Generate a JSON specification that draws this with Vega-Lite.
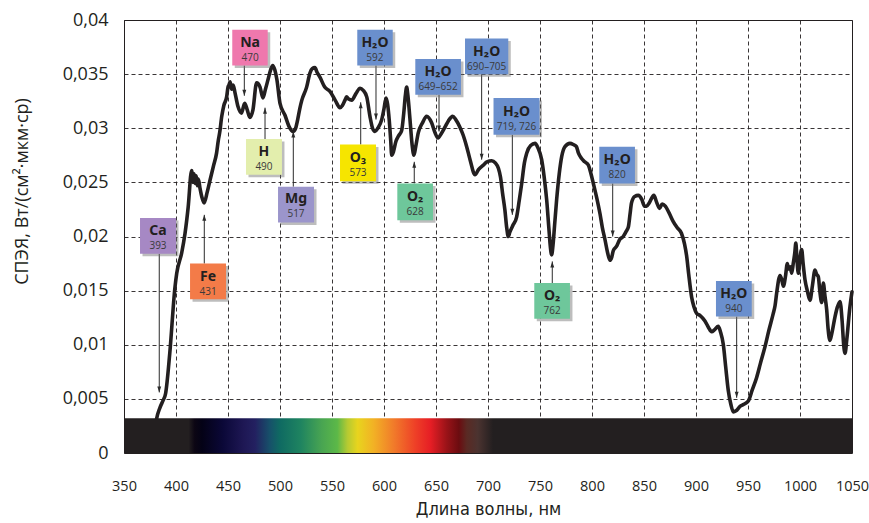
{
 "$schema": "https://vega.github.io/schema/vega-lite/v6.json",
 "width": 728,
 "height": 433,
 "autosize": {"type": "none"},
 "padding": {"left": 124, "top": 20, "right": 17, "bottom": 70},
 "background": "white",
 "config": {"view": {"stroke": "#231f20", "strokeWidth": 1}, "font": "Open Sans"},
 "datasets": {
  "curve": [
   {"x":379,"v":0.0015},{"x":381,"v":0.003},{"x":384.6,"v":0.0042},{"x":387.8,"v":0.0049},{"x":390,"v":0.0055},
   {"x":394,"v":0.0092},{"x":399,"v":0.0153},{"x":400.7,"v":0.0166},{"x":405.5,"v":0.0185},{"x":408.7,"v":0.0203},
   {"x":411.7,"v":0.0227},{"x":415,"v":0.0261},{"x":416.5,"v":0.025},{"x":417.5,"v":0.0258},{"x":418.5,"v":0.0249},
   {"x":419.5,"v":0.0256},{"x":420.5,"v":0.0247},{"x":421.5,"v":0.0253},{"x":423,"v":0.0245},{"x":425,"v":0.0236},
   {"x":427,"v":0.0231},{"x":430,"v":0.0241},{"x":432.7,"v":0.0252},{"x":436,"v":0.0265},{"x":439,"v":0.0277},
   {"x":440.7,"v":0.0289},{"x":442,"v":0.0296},{"x":444,"v":0.0311},{"x":446,"v":0.0321},{"x":448.7,"v":0.0329},
   {"x":450,"v":0.0338},{"x":451,"v":0.034},{"x":452,"v":0.0343},{"x":453.5,"v":0.0336},{"x":455,"v":0.034},
   {"x":456.7,"v":0.0333},{"x":459.6,"v":0.032},{"x":463,"v":0.0314},{"x":466,"v":0.0323},{"x":468.5,"v":0.0317},
   {"x":471,"v":0.031},{"x":474,"v":0.0317},{"x":477.5,"v":0.0342},{"x":480.8,"v":0.0338},{"x":483.6,"v":0.0328},
   {"x":486,"v":0.0336},{"x":488.5,"v":0.0345},{"x":491,"v":0.0354},{"x":493,"v":0.0358},{"x":495,"v":0.0354},
   {"x":497,"v":0.0345},{"x":500,"v":0.0323},{"x":504.8,"v":0.0312},{"x":509,"v":0.0301},{"x":512.5,"v":0.0297},
   {"x":515,"v":0.03},{"x":517,"v":0.0308},{"x":519,"v":0.0318},{"x":521,"v":0.0326},{"x":525.6,"v":0.0338},
   {"x":528.8,"v":0.0351},{"x":531,"v":0.0355},{"x":533.6,"v":0.0356},{"x":535.5,"v":0.0352},{"x":538.5,"v":0.0347},
   {"x":543,"v":0.0338},{"x":548,"v":0.0334},{"x":553,"v":0.0326},{"x":557.7,"v":0.0319},{"x":560,"v":0.0321},
   {"x":562.5,"v":0.0326},{"x":564,"v":0.0329},{"x":566,"v":0.0327},{"x":569,"v":0.0326},{"x":573,"v":0.0332},
   {"x":577,"v":0.0337},{"x":580,"v":0.0335},{"x":583.4,"v":0.0329},{"x":586.5,"v":0.0311},{"x":589,"v":0.03},
   {"x":591.3,"v":0.0297},{"x":594,"v":0.03},{"x":597.8,"v":0.0308},{"x":600,"v":0.0318},{"x":602,"v":0.0328},
   {"x":603.5,"v":0.0322},{"x":605,"v":0.0308},{"x":606.5,"v":0.0288},{"x":607.4,"v":0.0275},{"x":609,"v":0.0278},
   {"x":611.5,"v":0.0288},{"x":614,"v":0.0293},{"x":617,"v":0.0298},{"x":619,"v":0.0314},{"x":620.5,"v":0.033},
   {"x":621.8,"v":0.0338},{"x":623,"v":0.033},{"x":625,"v":0.0308},{"x":627,"v":0.0285},{"x":628.8,"v":0.0275},
   {"x":630.5,"v":0.0283},{"x":633,"v":0.0296},{"x":637,"v":0.0305},{"x":641,"v":0.0311},{"x":645.8,"v":0.0305},
   {"x":649,"v":0.0296},{"x":652,"v":0.0291},{"x":655,"v":0.0295},{"x":658.6,"v":0.0301},{"x":662,"v":0.0307},
   {"x":666,"v":0.0311},{"x":669,"v":0.0308},{"x":673,"v":0.0301},{"x":676,"v":0.0294},{"x":679.5,"v":0.0283},
   {"x":683,"v":0.027},{"x":687.5,"v":0.0257},{"x":691,"v":0.0262},{"x":695.5,"v":0.0266},{"x":699,"v":0.0269},
   {"x":703.6,"v":0.027},{"x":707,"v":0.0268},{"x":710,"v":0.0263},{"x":712,"v":0.0255},{"x":714,"v":0.024},
   {"x":716.3,"v":0.0224},{"x":718,"v":0.0208},{"x":719.5,"v":0.02},{"x":721,"v":0.0204},{"x":724.3,"v":0.0211},
   {"x":727.5,"v":0.0218},{"x":730,"v":0.0233},{"x":732.4,"v":0.0249},{"x":735,"v":0.0268},{"x":737.2,"v":0.0277},
   {"x":741,"v":0.0284},{"x":745.2,"v":0.0286},{"x":748,"v":0.0282},{"x":751.6,"v":0.0271},{"x":754,"v":0.0255},
   {"x":756.4,"v":0.0234},{"x":758.5,"v":0.0208},{"x":760,"v":0.019},{"x":761.2,"v":0.0183},{"x":762.5,"v":0.0192},
   {"x":764,"v":0.021},{"x":766,"v":0.0234},{"x":768.5,"v":0.0258},{"x":770.9,"v":0.0274},{"x":774,"v":0.0283},
   {"x":778.8,"v":0.0286},{"x":782,"v":0.0285},{"x":785,"v":0.0283},{"x":787,"v":0.0277},{"x":790,"v":0.0272},
   {"x":793,"v":0.0269},{"x":796.5,"v":0.0266},{"x":799,"v":0.0258},{"x":801.3,"v":0.0249},{"x":804.5,"v":0.0236},
   {"x":807.7,"v":0.0221},{"x":810,"v":0.0208},{"x":812.5,"v":0.0197},{"x":815,"v":0.0185},{"x":817.3,"v":0.0178},
   {"x":819,"v":0.0181},{"x":820.5,"v":0.0187},{"x":823.7,"v":0.0191},{"x":826.5,"v":0.0197},{"x":830,"v":0.02},
   {"x":833,"v":0.0205},{"x":835,"v":0.0209},{"x":836.5,"v":0.022},{"x":838,"v":0.0231},{"x":841,"v":0.0237},
   {"x":844.5,"v":0.0238},{"x":848,"v":0.0234},{"x":850.5,"v":0.0228},{"x":852.5,"v":0.0228},{"x":855,"v":0.0231},
   {"x":859.5,"v":0.0238},{"x":862,"v":0.0232},{"x":865,"v":0.0226},{"x":867.5,"v":0.023},{"x":870.5,"v":0.0228},
   {"x":874,"v":0.0222},{"x":878,"v":0.0214},{"x":882,"v":0.0208},{"x":886,"v":0.0203},{"x":889,"v":0.0193},
   {"x":891,"v":0.0182},{"x":893,"v":0.0165},{"x":895.8,"v":0.0144},{"x":898,"v":0.0135},{"x":900.6,"v":0.0129},
   {"x":904,"v":0.0127},{"x":908.6,"v":0.0122},{"x":912,"v":0.0116},{"x":915,"v":0.0112},{"x":918,"v":0.0114},
   {"x":921.4,"v":0.0117},{"x":923.5,"v":0.0112},{"x":926.3,"v":0.01},{"x":928.5,"v":0.008},{"x":931,"v":0.0058},
   {"x":933.5,"v":0.0045},{"x":935.9,"v":0.0038},{"x":938.5,"v":0.0039},{"x":942.3,"v":0.0043},{"x":946,"v":0.0045},
   {"x":950.3,"v":0.0048},{"x":954,"v":0.0058},{"x":958.4,"v":0.007},{"x":962,"v":0.0083},{"x":966.3,"v":0.0098},
   {"x":970,"v":0.0113},{"x":974.3,"v":0.0129},{"x":976,"v":0.0136},{"x":977.6,"v":0.0148},{"x":980.8,"v":0.0164},
   {"x":982.5,"v":0.016},{"x":984,"v":0.0154},{"x":986,"v":0.0163},{"x":987.8,"v":0.0175},{"x":989,"v":0.017},
   {"x":990.5,"v":0.0172},{"x":992,"v":0.0166},{"x":993.5,"v":0.0175},{"x":995,"v":0.0185},{"x":996,"v":0.0194},
   {"x":997,"v":0.018},{"x":998.4,"v":0.0166},{"x":1000,"v":0.018},{"x":1001.6,"v":0.0188},{"x":1003,"v":0.0175},
   {"x":1004.8,"v":0.016},{"x":1007,"v":0.015},{"x":1009.6,"v":0.0141},{"x":1012,"v":0.0155},{"x":1014.4,"v":0.0169},
   {"x":1016,"v":0.0165},{"x":1017.6,"v":0.0163},{"x":1019,"v":0.015},{"x":1020.9,"v":0.0139},{"x":1022.4,"v":0.0157},
   {"x":1024,"v":0.0145},{"x":1025.7,"v":0.0132},{"x":1027,"v":0.0115},{"x":1028.8,"v":0.0104},{"x":1030.5,"v":0.011},
   {"x":1033.7,"v":0.0126},{"x":1036,"v":0.0135},{"x":1038.5,"v":0.014},{"x":1040.5,"v":0.0122},{"x":1042,"v":0.01},
   {"x":1043.3,"v":0.0092},{"x":1045,"v":0.0105},{"x":1048,"v":0.0135},{"x":1050,"v":0.0149}
  ],
  "band": [{"from": 350, "to": 1050, "low": 0, "high": 0.0032}],
  "notes": [
   {"sym":"Ca","num":"393","x1":365.4,"x2":400.0,"y1":0.0184,"y2":0.0217,"cx":382.7,"cy":0.02005,"ax":383.9,"a0":0.0184,"a1":0.0056},
   {"sym":"Fe","num":"431","x1":413.5,"x2":448.1,"y1":0.0142,"y2":0.0175,"cx":430.8,"cy":0.01582,"ax":427.2,"a0":0.0175,"a1":0.022},
   {"sym":"Na","num":"470","x1":454.1,"x2":488.2,"y1":0.0358,"y2":0.0391,"cx":471.2,"cy":0.03743,"ax":465.7,"a0":0.0358,"a1":0.033},
   {"sym":"H","num":"490","x1":467.3,"x2":501.9,"y1":0.0257,"y2":0.029,"cx":484.6,"cy":0.02734,"ax":485.6,"a0":0.029,"a1":0.0319},
   {"sym":"Mg","num":"517","x1":498.1,"x2":532.7,"y1":0.0213,"y2":0.0246,"cx":515.4,"cy":0.02296,"ax":512.8,"a0":0.0246,"a1":0.0297},
   {"sym":"H₂O","num":"592","x1":574.3,"x2":608.4,"y1":0.0358,"y2":0.0391,"cx":591.3,"cy":0.03745,"ax":592.3,"a0":0.0358,"a1":0.0308},
   {"sym":"O₃","num":"573","x1":557.7,"x2":592.3,"y1":0.0251,"y2":0.0285,"cx":575.0,"cy":0.02679,"ax":577.6,"a0":0.0285,"a1":0.0324},
   {"sym":"H₂O","num":"649–652","x1":630.1,"x2":674.0,"y1":0.0331,"y2":0.0364,"cx":652.0,"cy":0.03474,"ax":652.9,"a0":0.0331,"a1":0.0297},
   {"sym":"O₂","num":"628","x1":612.8,"x2":647.1,"y1":0.0215,"y2":0.0249,"cx":630.0,"cy":0.02319,"ax":629.1,"a0":0.0249,"a1":0.0269},
   {"sym":"H₂O","num":"690–705","x1":677.9,"x2":719.5,"y1":0.035,"y2":0.0383,"cx":698.7,"cy":0.03662,"ax":693.9,"a0":0.035,"a1":0.0271},
   {"sym":"H₂O","num":"719, 726","x1":705.3,"x2":749.5,"y1":0.0294,"y2":0.0328,"cx":727.4,"cy":0.03108,"ax":723.4,"a0":0.0294,"a1":0.022},
   {"sym":"O₂","num":"762","x1":744.5,"x2":778.8,"y1":0.0124,"y2":0.0157,"cx":761.7,"cy":0.01405,"ax":761.8,"a0":0.0157,"a1":0.0177},
   {"sym":"H₂O","num":"820","x1":807.0,"x2":841.3,"y1":0.0249,"y2":0.0283,"cx":824.2,"cy":0.02661,"ax":819.9,"a0":0.0249,"a1":0.02},
   {"sym":"H₂O","num":"940","x1":919.2,"x2":953.6,"y1":0.0126,"y2":0.0159,"cx":936.4,"cy":0.01424,"ax":939.1,"a0":0.0126,"a1":0.0051}
  ]
 },
 "layer": [
  {
   "data": {"name": "curve"},
   "mark": {"type": "line", "color": "#231f20", "strokeWidth": 3.6, "interpolate": "monotone", "strokeJoin": "round", "strokeCap": "round"},
   "encoding": {
    "x": {"field": "x", "type": "quantitative", "scale": {"domain": [350, 1050], "nice": false, "zero": false},
     "axis": {"values": [350,400,450,500,550,600,650,700,750,800,850,900,950,1000,1050], "format": "d",
      "title": "Длина волны, нм", "labelFontSize": 14.5, "labelColor": "#231f20", "labelPadding": 26, "labelOverlap": false, "labelBound": false, "labelFlush": false,
      "ticks": false, "tickSize": 0, "domain": false,
      "gridDash": [4, 3], "gridColor": "#231f20", "gridOpacity": 0.9, "labelFont": "Open Sans",
      "titleFont": "'DejaVu Sans Condensed', 'Liberation Sans Narrow', Roboto, sans-serif", "titleFontSize": 18, "titleFontWeight": "normal", "titleColor": "#231f20", "titlePadding": 8}},
    "y": {"field": "v", "type": "quantitative", "scale": {"domain": [0, 0.04], "nice": false, "zero": true},
     "axis": {"values": [0,0.005,0.01,0.015,0.02,0.025,0.03,0.035,0.04], "title": "СПЭЯ, Вт/(см²·мкм·ср)",
      "labelExpr": "replace(format(datum.value, '~g'), '.', ',')", "labelFontSize": 18, "labelColor": "#231f20", "labelPadding": 16,
      "labelOverlap": false,
      "ticks": false, "tickSize": 0, "domain": false, "gridDash": [4, 3], "gridColor": "#231f20", "gridOpacity": 0.9, "labelFont": "Open Sans",
      "titleFontSize": 18, "titleFontWeight": "normal", "titleColor": "#231f20", "titleFont": "Open Sans",
      "titleX": -102, "titleY": 171, "titleAngle": -90, "titleBaseline": "middle", "titleAlign": "center"}}
   }
  },
  {
   "data": {"name": "band"},
   "mark": {"type": "rect", "stroke": null, "fill": {"gradient": "linear", "x1": 0, "y1": 0, "x2": 1, "y2": 0, "stops": [
     {"offset": 0, "color": "#231f20"},
     {"offset": 0.0886, "color": "#231f20"},
     {"offset": 0.097, "color": "#0c0614"},
     {"offset": 0.107, "color": "#040216"},
     {"offset": 0.136, "color": "#0b0838"},
     {"offset": 0.164, "color": "#1e1754"},
     {"offset": 0.18, "color": "#232060"},
     {"offset": 0.2, "color": "#17506a"},
     {"offset": 0.214, "color": "#0f6a62"},
     {"offset": 0.243, "color": "#1f8460"},
     {"offset": 0.271, "color": "#48a452"},
     {"offset": 0.293, "color": "#5cb848"},
     {"offset": 0.307, "color": "#b5ca32"},
     {"offset": 0.321, "color": "#e8d41e"},
     {"offset": 0.343, "color": "#f2b125"},
     {"offset": 0.371, "color": "#f17a2a"},
     {"offset": 0.4, "color": "#ee4027"},
     {"offset": 0.421, "color": "#e61e25"},
     {"offset": 0.443, "color": "#9a1318"},
     {"offset": 0.46, "color": "#6b0c10"},
     {"offset": 0.471, "color": "#5a2a24"},
     {"offset": 0.486, "color": "#4b3330"},
     {"offset": 0.507, "color": "#231f20"},
     {"offset": 1, "color": "#231f20"}]}},
   "encoding": {
    "x": {"field": "from", "type": "quantitative"},
    "x2": {"field": "to"},
    "y": {"field": "low", "type": "quantitative"},
    "y2": {"field": "high"}
   }
  },
  {
   "data": {"name": "notes"},
   "mark": {"type": "rule", "color": "#2b2b2b", "strokeWidth": 1},
   "encoding": {
    "x": {"field": "ax", "type": "quantitative"},
    "y": {"field": "a0", "type": "quantitative"},
    "y2": {"field": "a1"}
   }
  },
  {
   "data": {"name": "notes"},
   "transform": [{"filter": "datum.a1 < datum.a0"}],
   "mark": {"type": "point", "shape": "M0,0L-1.3,-4L1.3,-4Z", "size": 9, "filled": true, "color": "#2b2b2b", "opacity": 1},
   "encoding": {
    "x": {"field": "ax", "type": "quantitative"},
    "y": {"field": "a1", "type": "quantitative"}
   }
  },
  {
   "data": {"name": "notes"},
   "transform": [{"filter": "datum.a1 > datum.a0"}],
   "mark": {"type": "point", "shape": "M0,0L-1.3,4L1.3,4Z", "size": 9, "filled": true, "color": "#2b2b2b", "opacity": 1},
   "encoding": {
    "x": {"field": "ax", "type": "quantitative"},
    "y": {"field": "a1", "type": "quantitative"}
   }
  },
  {
   "data": {"name": "notes"},
   "mark": {"type": "rect", "fill": "#6d6d6d", "opacity": 0.45, "xOffset": 2.5, "yOffset": 2.5, "x2Offset": 2.5, "y2Offset": 2.5},
   "encoding": {
    "x": {"field": "x1", "type": "quantitative"},
    "x2": {"field": "x2"},
    "y": {"field": "y1", "type": "quantitative"},
    "y2": {"field": "y2"}
   }
  },
  {
   "data": {"name": "notes"},
   "mark": {"type": "rect", "opacity": 1},
   "encoding": {
    "x": {"field": "x1", "type": "quantitative"},
    "x2": {"field": "x2"},
    "y": {"field": "y1", "type": "quantitative"},
    "y2": {"field": "y2"},
    "fill": {"field": "sym", "type": "nominal", "legend": null,
     "scale": {"domain": ["Ca", "Fe", "Na", "H", "Mg", "H₂O", "O₃", "O₂"],
      "range": ["#a688c4", "#f37b48", "#ef78ad", "#e3eead", "#9b95cb", "#6a8fcd", "#f6e500", "#6ec79b"]}}
   }
  },
  {
   "data": {"name": "notes"},
   "mark": {"type": "text", "font": "Noto Sans", "fontWeight": "bold", "fontSize": 14, "color": "#231f20", "baseline": "middle", "align": "center", "dy": -5},
   "encoding": {
    "x": {"field": "cx", "type": "quantitative"},
    "y": {"field": "cy", "type": "quantitative"},
    "text": {"field": "sym"}
   }
  },
  {
   "data": {"name": "notes"},
   "mark": {"type": "text", "font": "Open Sans", "fontSize": 10, "color": "#3a3a3a", "baseline": "middle", "align": "center", "dy": 10},
   "encoding": {
    "x": {"field": "cx", "type": "quantitative"},
    "y": {"field": "cy", "type": "quantitative"},
    "text": {"field": "num"}
   }
  }
 ]
}
